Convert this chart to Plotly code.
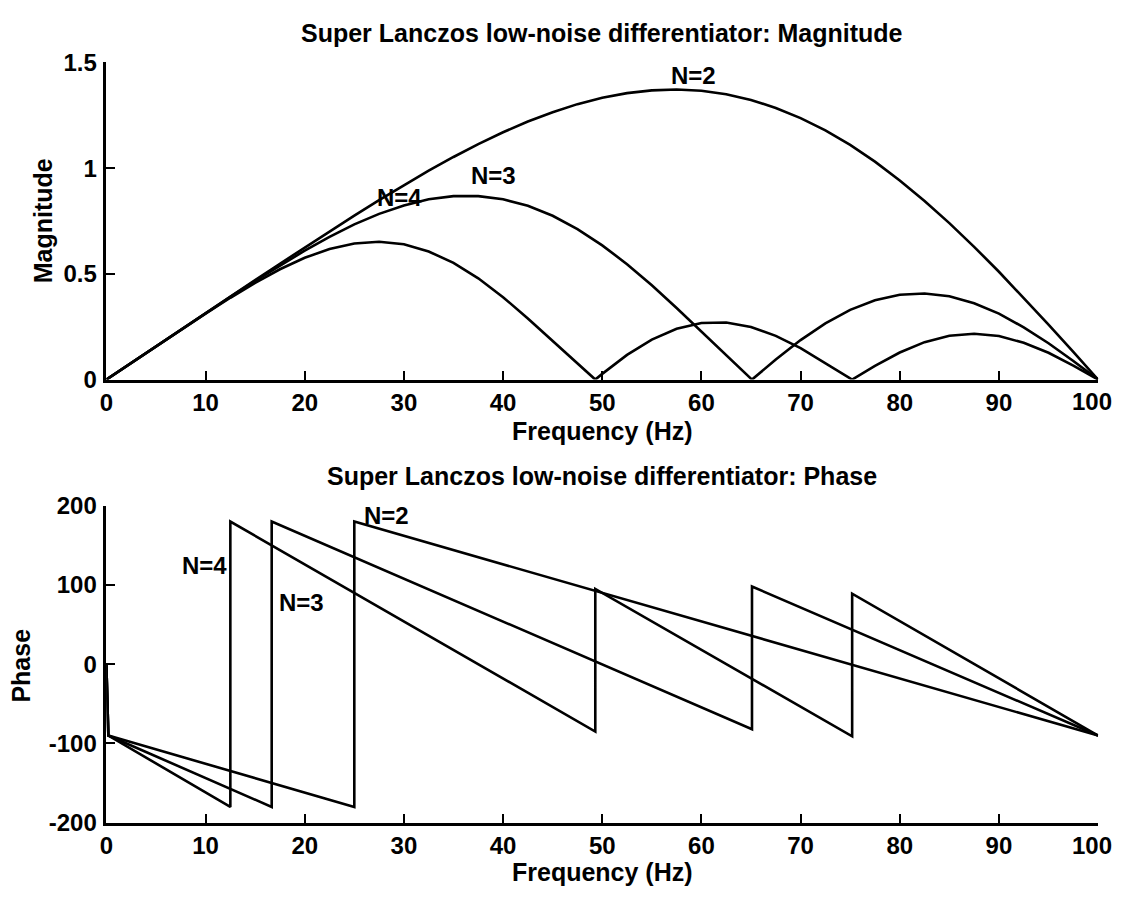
import plotly.graph_objects as go

# ---------------- magnitude response (fs = 200 Hz) ----------------
freq_n2 = [0, 2.5, 5, 7.5, 10, 12.5, 15, 17.5, 20, 22.5, 25, 27.5, 30, 32.5, 35, 37.5,
           40, 42.5, 45, 47.5, 50, 52.5, 55, 57.5, 60, 62.5, 65, 67.5, 70, 72.5, 75,
           77.5, 80, 82.5, 85, 87.5, 90, 92.5, 95, 97.5, 100]
mag_n2 = [0, 0.079, 0.157, 0.236, 0.314, 0.392, 0.471, 0.548, 0.625, 0.701, 0.776,
          0.849, 0.920, 0.988, 1.053, 1.114, 1.170, 1.221, 1.265, 1.303, 1.333, 1.355,
          1.368, 1.372, 1.366, 1.350, 1.323, 1.285, 1.237, 1.179, 1.110, 1.031, 0.942,
          0.845, 0.740, 0.628, 0.510, 0.387, 0.260, 0.131, 0]

freq_n3 = [0, 2.5, 5, 7.5, 10, 12.5, 15, 17.5, 20, 22.5, 25, 27.5, 30, 32.5, 35, 37.5,
           40, 42.5, 45, 47.5, 50, 52.5, 55, 57.5, 60, 62.5, 65, 65.1, 67.5, 70, 72.5,
           75, 77.5, 80, 82.5, 85, 87.5, 90, 92.5, 95, 97.5, 100]
mag_n3 = [0, 0.079, 0.157, 0.235, 0.313, 0.391, 0.467, 0.540, 0.610, 0.675, 0.734,
          0.784, 0.824, 0.853, 0.868, 0.868, 0.853, 0.822, 0.775, 0.712, 0.635, 0.546,
          0.446, 0.339, 0.228, 0.116, 0.007, 0, 0.095, 0.187, 0.266, 0.330, 0.375,
          0.401, 0.407, 0.394, 0.361, 0.312, 0.247, 0.172, 0.088, 0]

freq_n4 = [0, 2.5, 5, 7.5, 10, 12.5, 15, 17.5, 20, 22.5, 25, 27.5, 30, 32.5, 35, 37.5,
           40, 42.5, 45, 47.5, 49.3, 50, 52.5, 55, 57.5, 60, 62.5, 65, 67.5, 70, 72.5,
           75, 75.2, 77.5, 80, 82.5, 85, 87.5, 90, 92.5, 95, 97.5, 100]
mag_n4 = [0, 0.079, 0.157, 0.235, 0.312, 0.387, 0.458, 0.522, 0.576, 0.618, 0.644,
          0.652, 0.640, 0.606, 0.552, 0.479, 0.390, 0.289, 0.182, 0.074, 0, 0.027,
          0.117, 0.189, 0.240, 0.268, 0.270, 0.249, 0.207, 0.149, 0.079, 0.006, 0,
          0.065, 0.128, 0.177, 0.207, 0.217, 0.206, 0.174, 0.127, 0.066, 0]

# ---------------- phase response (degrees, wrapped) ----------------
pfreq_n2 = [0, 0.2, 25, 25, 100]
phase_n2 = [0, -90, -180, 180, -90]
pfreq_n3 = [0, 0.2, 16.67, 16.67, 65.1, 65.1, 100]
phase_n3 = [0, -90, -180, 180, -82, 98, -90]
pfreq_n4 = [0, 0.2, 12.5, 12.5, 49.3, 49.3, 75.2, 75.2, 100]
phase_n4 = [0, -90, -180, 180, -85, 95, -91, 89, -90]

# ---------------- ticks and labels ----------------
freq_ticks = [0, 10, 20, 30, 40, 50, 60, 70, 80, 90, 100]
# the last label sits flush with the right edge, so it is drawn as an annotation
freq_ticktext = ["0", "10", "20", "30", "40", "50", "60", "70", "80", "90", ""]
last_freq_label = "100"
mag_ticks = [0, 0.5, 1, 1.5]
mag_ticktext = ["0", "0.5", "1", "1.5"]
phase_ticks = [-200, -100, 0, 100, 200]
phase_ticktext = ["-200", "-100", "0", "100", "200"]

mag_labels = [("N=2", 59.2, 1.44), ("N=3", 39.0, 0.965), ("N=4", 29.6, 0.86)]
phase_labels = [("N=4", 9.9, 125), ("N=3", 19.7, 78), ("N=2", 28.2, 188)]

title_mag = "Super Lanczos low-noise differentiator: Magnitude"
title_phase = "Super Lanczos low-noise differentiator: Phase"
xlabel = "Frequency (Hz)"

FONT = "Liberation Sans, Arial, Helvetica, sans-serif"
# page body keeps its default 8 px margin, so the figure is sized to fill the rest
OFF = 8
W, H = 1130 - 2 * OFF, 908 - 2 * OFF
LINE = dict(color="black", width=2.6)


def px(x):
    return (x - OFF) / W


def py(y):
    return 1 - (y - OFF) / H


fig = go.Figure()
for fx, fy in [(freq_n2, mag_n2), (freq_n3, mag_n3), (freq_n4, mag_n4)]:
    fig.add_trace(go.Scatter(x=fx, y=fy, mode="lines", line=LINE,
                             xaxis="x", yaxis="y", showlegend=False))
for fx, fy in [(pfreq_n2, phase_n2), (pfreq_n3, phase_n3), (pfreq_n4, phase_n4)]:
    fig.add_trace(go.Scatter(x=fx, y=fy, mode="lines", line=LINE,
                             xaxis="x2", yaxis="y2", showlegend=False))

x_dom = [px(108), px(1106)]
tick_font = dict(family=FONT, size=24, color="black", weight="bold")
axis_common = dict(showline=True, linecolor="black", linewidth=2.5,
                   ticks="inside", ticklen=9, tickwidth=2, tickcolor="black",
                   showgrid=False, zeroline=False, mirror=False,
                   tickfont=tick_font)

fig.update_layout(
    width=W, height=H,
    margin=dict(l=0, r=0, t=0, b=0),
    paper_bgcolor="white", plot_bgcolor="white",
    font=dict(family=FONT, color="black"),
    xaxis=dict(domain=x_dom, range=[0, 100], tickvals=freq_ticks,
               ticktext=freq_ticktext, anchor="y", ticklabelstandoff=0,
               **axis_common),
    yaxis=dict(domain=[py(385), py(58)], range=[0, 1.5],
               tickvals=mag_ticks, ticktext=mag_ticktext,
               anchor="x", ticklabelstandoff=2, **axis_common),
    xaxis2=dict(domain=x_dom, range=[0, 100], tickvals=freq_ticks,
                ticktext=freq_ticktext, anchor="y2", ticklabelstandoff=0,
                **axis_common),
    yaxis2=dict(domain=[py(842), py(515)], range=[-200, 200],
                tickvals=phase_ticks, ticktext=phase_ticktext,
                anchor="x2", ticklabelstandoff=2, **axis_common),
)

annots = []
text_font = dict(family=FONT, size=25, color="black", weight="bold")
cx = px(607)
for txt, ypix in [(title_mag, 28), (xlabel, 438), (title_phase, 484), (xlabel, 893)]:
    annots.append(dict(text=txt, x=cx, y=py(ypix), xref="paper", yref="paper",
                       xanchor="center", yanchor="middle", showarrow=False, font=text_font))
annots.append(dict(text="Magnitude", x=px(44), y=py(221), xref="paper", yref="paper",
                   xanchor="center", yanchor="middle", textangle=-90,
                   showarrow=False, font=text_font))
annots.append(dict(text="Phase", x=px(22), y=py(680), xref="paper", yref="paper",
                   xanchor="center", yanchor="middle", textangle=-90,
                   showarrow=False, font=text_font))

# right-most frequency tick label for both panels
for ypix in (408, 865):
    annots.append(dict(text=last_freq_label, x=1, y=py(ypix), xref="paper", yref="paper",
                       xanchor="right", yanchor="middle", showarrow=False,
                       font=tick_font))

label_font = dict(family=FONT, size=24, color="black", weight="bold")
for txt, lx, ly in mag_labels:
    annots.append(dict(text=txt, x=lx, y=ly, xref="x", yref="y", showarrow=False,
                       xanchor="center", yanchor="middle", font=label_font))
for txt, lx, ly in phase_labels:
    annots.append(dict(text=txt, x=lx, y=ly, xref="x2", yref="y2", showarrow=False,
                       xanchor="center", yanchor="middle", font=label_font))
fig.update_layout(annotations=annots)

fig.write_html("out.html")
